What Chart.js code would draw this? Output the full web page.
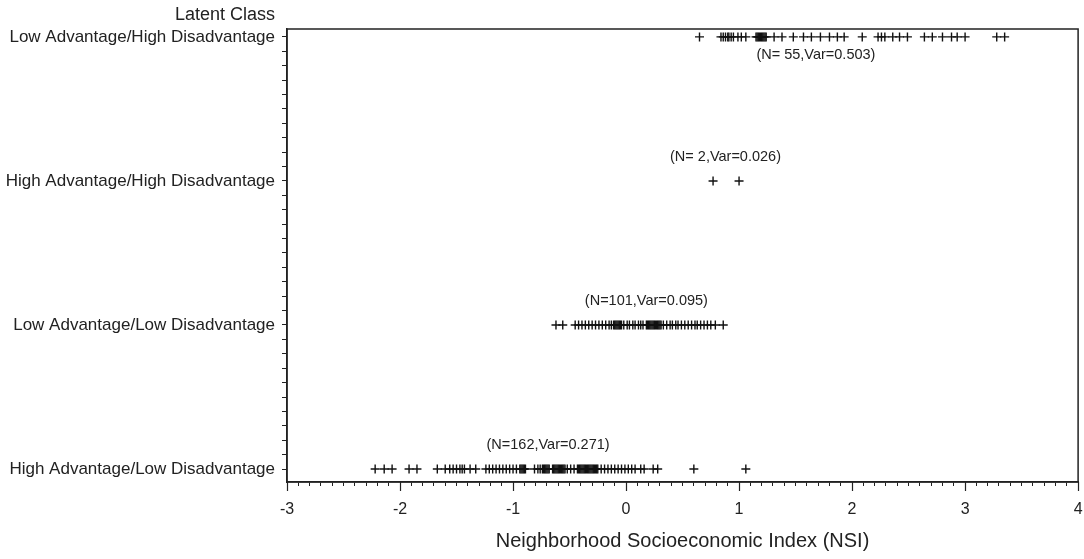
<!DOCTYPE html>
<html>
<head>
<meta charset="utf-8">
<script src="https://cdn.jsdelivr.net/npm/chart.js@4"></script>
<style>
  html, body { margin: 0; padding: 0; background: #fff; }
  #wrap { width: 1084px; height: 559px; }
</style>
</head>
<body>
<div id="wrap"><canvas id="chart"></canvas></div>
<script>
// latent classes, bottom to top (y = 1..4)
const classes = [
  "High Advantage/Low Disadvantage",
  "Low Advantage/Low Disadvantage",
  "High Advantage/High Disadvantage",
  "Low Advantage/High Disadvantage"
];

// NSI values
const hald = [-2.22, -2.14, -2.07, -1.92, -1.85, -1.67, -1.60, -1.56, -1.53, -1.50, -1.47, -1.45, -1.43,
  -1.38, -1.33, -1.24, -1.21, -1.18, -1.15, -1.12, -1.09, -1.06, -1.03, -1.00, -0.97, -0.94, -0.93,
  -0.92, -0.91, -0.90, -0.89, -0.81, -0.78, -0.76, -0.74, -0.73, -0.72, -0.71, -0.70, -0.69, -0.68,
  -0.65, -0.64, -0.63, -0.62, -0.61, -0.60, -0.59, -0.58, -0.57, -0.56, -0.55, -0.54, -0.52, -0.49,
  -0.46, -0.43, -0.42, -0.41, -0.40, -0.39, -0.38, -0.37, -0.36, -0.35, -0.34, -0.33, -0.32, -0.31,
  -0.30, -0.29, -0.28, -0.27, -0.26, -0.25, -0.22, -0.19, -0.16, -0.13, -0.10, -0.07, -0.04, -0.01,
  0.02, 0.05, 0.08, 0.13, 0.16, 0.24, 0.28, 0.60, 1.06];
const lald = [-0.62, -0.56, -0.45, -0.42, -0.39, -0.36, -0.33, -0.30, -0.27, -0.24, -0.21, -0.18, -0.15,
  -0.13, -0.11, -0.10, -0.09, -0.08, -0.07, -0.06, -0.05, -0.04, -0.02, 0.01, 0.03, 0.06, 0.08, 0.11,
  0.13, 0.15, 0.18, 0.19, 0.20, 0.21, 0.22, 0.23, 0.24, 0.25, 0.26, 0.27, 0.28, 0.29, 0.30, 0.31,
  0.33, 0.36, 0.39, 0.41, 0.44, 0.46, 0.49, 0.52, 0.55, 0.58, 0.61, 0.63, 0.66, 0.69, 0.72, 0.75,
  0.79, 0.86];
const hahd = [0.77, 1.00];
const lahd = [0.65, 0.84, 0.86, 0.88, 0.90, 0.91, 0.93, 0.95, 0.99, 1.02, 1.06, 1.15, 1.16, 1.17, 1.18,
  1.19, 1.20, 1.21, 1.22, 1.23, 1.24, 1.31, 1.38, 1.48, 1.57, 1.64, 1.72, 1.80, 1.87, 1.93, 2.09,
  2.23, 2.26, 2.29, 2.36, 2.42, 2.49, 2.64, 2.71, 2.80, 2.88, 2.93, 3.00, 3.28, 3.35];

// group notes and where they sit on the NSI axis
const notes = ["(N=162,Var=0.271)", "(N=101,Var=0.095)", "(N= 2,Var=0.026)", "(N= 55,Var=0.503)"];
const noteX = [-0.69, 0.18, 0.88, 1.68];

const groups = [hald, lald, hahd, lahd];
const FONT = "'Liberation Sans', Arial, sans-serif";

const isInt = v => Math.abs(v - Math.round(v)) < 1e-6;

// frame, long major ticks, notes, "Latent Class"
const extras = {
  id: 'extras',
  afterDraw(chart) {
    const ctx = chart.ctx;
    const a = chart.chartArea;
    const xs = chart.scales.x, ys = chart.scales.y;
    ctx.save();
    ctx.strokeStyle = '#222';
    ctx.lineWidth = 1.5;
    ctx.strokeRect(a.left, a.top, a.right - a.left, a.bottom - a.top);
    ctx.lineWidth = 1.2;
    xs.ticks.forEach(t => {
      if (!isInt(t.value)) return;
      const px = Math.round(xs.getPixelForValue(t.value)) + 0.5;
      ctx.beginPath();
      ctx.moveTo(px, a.bottom);
      ctx.lineTo(px, a.bottom + 9);
      ctx.stroke();
    });
    ctx.fillStyle = '#222';
    ctx.font = '14.5px ' + FONT;
    ctx.textAlign = 'center';
    ctx.textBaseline = 'middle';
    notes.forEach((n, i) => {
      const py = ys.getPixelForValue(i + 1) + (i === 3 ? 18 : -24);
      ctx.fillText(n, xs.getPixelForValue(noteX[i]), py);
    });
    ctx.font = '18px ' + FONT;
    ctx.textAlign = 'right';
    ctx.fillText('Latent Class', 275, 15);
    ctx.restore();
  }
};

new Chart(document.getElementById('chart'), {
  type: 'scatter',
  data: {
    datasets: groups.map((g, i) => ({
      label: classes[i],
      data: g.map(v => ({ x: v, y: i + 1 })),
      pointStyle: 'cross',
      pointRadius: 4.5,
      borderColor: '#111',
      borderWidth: 1.4,
      backgroundColor: '#111'
    }))
  },
  options: {
    responsive: true,
    maintainAspectRatio: false,
    animation: false,
    layout: { padding: { top: 29, right: 4, left: 0, bottom: 0 } },
    plugins: { legend: { display: false }, tooltip: { enabled: false } },
    scales: {
      x: {
        type: 'linear',
        min: -3, max: 4,
        afterFit: s => { s.height = 77; s.paddingLeft = 0; s.paddingRight = 0; },
        ticks: {
          stepSize: 0.1,
          includeBounds: false,
          autoSkip: false,
          maxRotation: 0,
          padding: 14,
          color: '#222',
          font: { family: FONT, size: 16 },
          callback: v => isInt(v) ? Math.round(v) : ''
        },
        grid: { drawOnChartArea: false, tickLength: 4, tickColor: '#222', tickWidth: 1 },
        border: { color: '#222', width: 1.5 },
        title: {
          display: true,
          text: 'Neighborhood Socioeconomic Index (NSI)',
          color: '#222',
          font: { family: FONT, size: 20 },
          padding: { top: 0, bottom: 6 }
        }
      },
      y: {
        type: 'linear',
        min: 0.91, max: 4.055,
        afterFit: s => { s.width = 287; s.paddingTop = 0; s.paddingBottom = 0; },
        ticks: {
          stepSize: 0.1,
          includeBounds: false,
          autoSkip: false,
          padding: 7,
          color: '#222',
          font: { family: FONT, size: 17 },
          callback: v => isInt(v) ? classes[Math.round(v) - 1] : ''
        },
        grid: { drawOnChartArea: false, tickLength: 5, tickColor: '#222', tickWidth: 1 },
        border: { color: '#222', width: 1.5 }
      }
    }
  },
  plugins: [extras]
});
</script>
</body>
</html>
